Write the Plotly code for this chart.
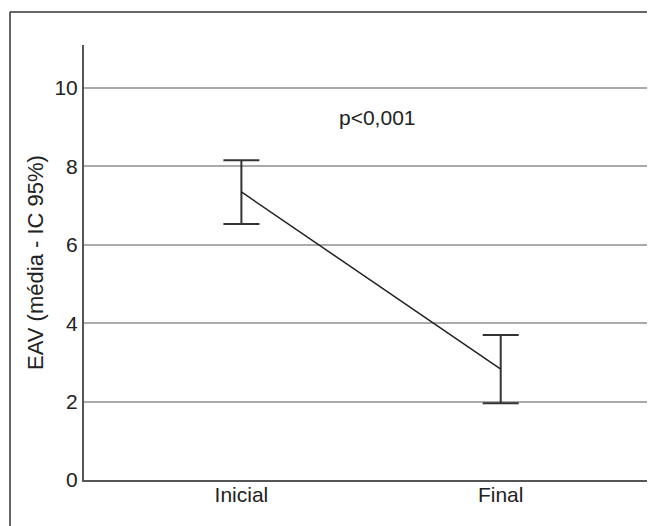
import plotly.graph_objects as go

categories = ["Inicial", "Final"]
means = [7.35, 2.83]
upper_ci = [8.16, 3.70]
lower_ci = [6.53, 1.96]
y_ticks = [0, 2, 4, 6, 8, 10]

err_plus = [u - m for u, m in zip(upper_ci, means)]
err_minus = [m - l for m, l in zip(means, lower_ci)]

OFF = 8  # default page body margin
W, H = 655 - OFF, 526 - OFF
L, R, T, B = 84 - OFF, 0, 45 - OFF, 46
pw, ph = W - L - R, H - T - B

fig = go.Figure()
fig.add_trace(go.Scatter(
    x=[0, 1], y=means, mode="lines",
    line=dict(color="#222222", width=1.5),
    error_y=dict(type="data", array=err_plus, arrayminus=err_minus,
                 color="#333333", thickness=2, width=18),
    showlegend=False, hoverinfo="skip",
))

fig.add_annotation(x=0.525, y=9.25, text="p<0,001", showarrow=False,
                   font=dict(size=21, color="#222222"))

# outer frame (left and top edges visible)
fx = (10 - OFF - L) / pw
fy = 1 + (T - (12 - OFF)) / ph
fig.add_shape(type="line", xref="paper", yref="paper",
              x0=fx, x1=fx, y0=-(B + 5) / ph, y1=fy,
              line=dict(color="#333333", width=1.5))
fig.add_shape(type="line", xref="paper", yref="paper",
              x0=fx, x1=(W + 5 - L) / pw, y0=fy, y1=fy,
              line=dict(color="#333333", width=1.5))

fig.update_layout(
    width=W, height=H,
    margin=dict(l=L, r=R, t=T, b=B),
    plot_bgcolor="white", paper_bgcolor="white",
    font=dict(family="Liberation Sans, Arial, sans-serif", size=21, color="#222222"),
    xaxis=dict(range=[-0.607, 1.595], tickvals=[0, 1], ticktext=categories,
               showgrid=False, zeroline=False, showline=True,
               linecolor="#555555", linewidth=2, ticks="", ticklabelstandoff=-5),
    yaxis=dict(range=[0, 11.1], tickvals=y_ticks, showgrid=True,
               gridcolor="#aaaaaa", gridwidth=1.5, zeroline=False,
               showline=True, linecolor="#555555", linewidth=2, ticks="",
               ticklabelstandoff=0,
               title=dict(text="EAV (média - IC 95%)", standoff=5,
                          font=dict(size=22))),
)

fig.write_html("out.html")
